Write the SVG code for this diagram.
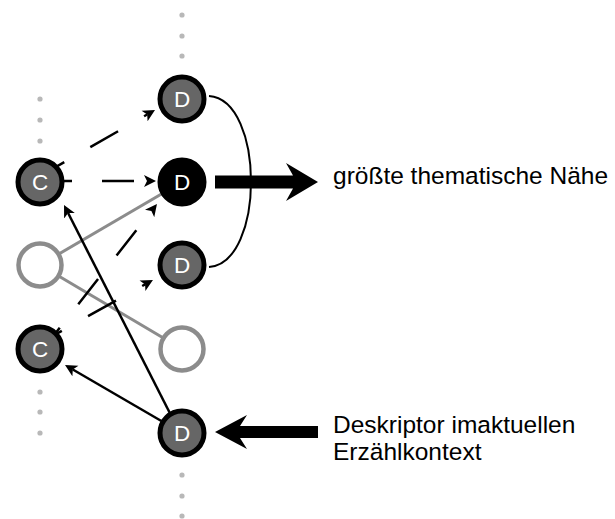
<svg xmlns="http://www.w3.org/2000/svg" width="615" height="519" viewBox="0 0 615 519">
  <defs>
    <marker id="tip" viewBox="0 -7 14 14" markerWidth="14" markerHeight="14" refX="3" refY="0" orient="auto" markerUnits="userSpaceOnUse">
      <path d="M0,-6 L12,0 L0,6 L3,0 Z" fill="#000"/>
    </marker>
  </defs>
  <style>
    .dot { fill: #b8b8b8; }
    .dash { stroke: #000; stroke-width: 2.5; fill: none; stroke-dasharray: 32 30; marker-end: url(#tip); }
    .solid { stroke: #000; stroke-width: 2.5; fill: none; marker-end: url(#tip); }
    .gray { stroke: #8c8c8c; stroke-width: 3; fill: none; }
    .node { fill: #666; stroke: #000; stroke-width: 5; }
    .hot { fill: #000; stroke: #000; stroke-width: 5; }
    .empty { fill: #fff; stroke: #8c8c8c; stroke-width: 4.5; }
    .lbl { font-family: "Liberation Sans", Arial, sans-serif; font-size: 22.5px; fill: #fff; text-anchor: middle; }
    .note { font-family: "Liberation Sans", Arial, sans-serif; font-size: 24.5px; fill: #000; }
  </style>

  <!-- continuation dots of both columns -->
  <g id="dots">
    <circle class="dot" cx="40" cy="99" r="2.6"/>
    <circle class="dot" cx="40" cy="120" r="2.6"/>
    <circle class="dot" cx="40" cy="141" r="2.6"/>
    <circle class="dot" cx="40" cy="392" r="2.6"/>
    <circle class="dot" cx="40" cy="412" r="2.6"/>
    <circle class="dot" cx="40" cy="433" r="2.6"/>
    <circle class="dot" cx="182" cy="15" r="2.6"/>
    <circle class="dot" cx="182" cy="36" r="2.6"/>
    <circle class="dot" cx="182" cy="56" r="2.6"/>
    <circle class="dot" cx="182" cy="475" r="2.6"/>
    <circle class="dot" cx="182" cy="496" r="2.6"/>
    <circle class="dot" cx="182" cy="516" r="2.6"/>
  </g>

  <g id="connectors">
    <!-- gray links from the empty left node -->
    <line class="gray" x1="40" y1="265" x2="182" y2="182"/>
    <line class="gray" x1="40" y1="265" x2="182" y2="349"/>
    <!-- dashed links C -> D -->
    <line class="dash" x1="40" y1="176" x2="147.2" y2="114.5" stroke-dashoffset="4"/>
    <line class="dash" x1="40" y1="181" x2="147" y2="181"/>
    <line class="dash" x1="40" y1="353" x2="151.4" y2="211.1"/>
    <line class="dash" x1="40" y1="343" x2="145.1" y2="284.4" stroke-dashoffset="7"/>
    <!-- solid links from the current descriptor -->
    <line class="solid" x1="180" y1="433" x2="68.1" y2="213"/>
    <line class="solid" x1="182" y1="433" x2="72.8" y2="369.5"/>
    <!-- bracket around the three candidate descriptors -->
    <path d="M209,96 C265,100 265,263 209,267" fill="none" stroke="#000" stroke-width="2"/>
  </g>

  <g id="c1"><circle class="node" cx="40" cy="182" r="22"/><text class="lbl" x="40" y="190">C</text></g>
  <g id="e1"><circle class="empty" cx="40" cy="265" r="21.5"/></g>
  <g id="c2"><circle class="node" cx="40" cy="349" r="22"/><text class="lbl" x="40" y="357">C</text></g>

  <g id="d1"><circle class="node" cx="182" cy="99" r="22"/><text class="lbl" x="182" y="107">D</text></g>
  <g id="d2"><circle class="hot" cx="182" cy="182" r="22"/><text class="lbl" x="182" y="190">D</text></g>
  <g id="d3"><circle class="node" cx="182" cy="265" r="22"/><text class="lbl" x="182" y="273">D</text></g>
  <g id="e2"><circle class="empty" cx="182" cy="349" r="21.5"/></g>
  <g id="d4"><circle class="node" cx="182" cy="433" r="22"/><text class="lbl" x="182" y="441">D</text></g>

  <!-- annotation: closest topic -->
  <g id="note-top">
    <path d="M215,175.5 H293 L286,163 L318,182 L286,201 L293,188.5 H215 Z" fill="#000"/>
    <text class="note" x="333" y="184">größte thematische Nähe</text>
  </g>

  <!-- annotation: current descriptor -->
  <g id="note-bottom">
    <path d="M318,426 H240 L247,415 L215,432 L247,449 L240,438 H318 Z" fill="#000"/>
    <text class="note" x="333" y="433">Deskriptor imaktuellen</text>
    <text class="note" x="333" y="460">Erzählkontext</text>
  </g>
</svg>
